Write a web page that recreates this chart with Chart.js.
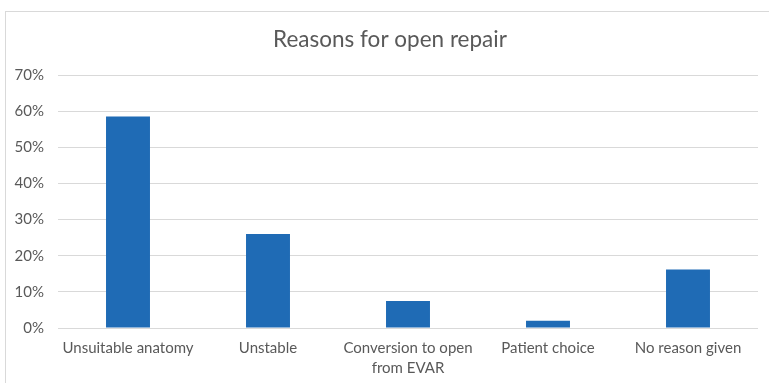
<!DOCTYPE html>
<html>
<head>
<meta charset="utf-8">
<script src="https://cdn.jsdelivr.net/npm/chart.js@4"></script>
<style>
  body { margin: 0; background: #fff; }
  #wrap { position: relative; width: 769px; height: 383px; }
  #frame {
    position: absolute; left: 5px; top: 11px; right: 0; bottom: 0;
    border-left: 1px solid #d9d9d9; border-top: 1px solid #d9d9d9;
    pointer-events: none;
  }
</style>
</head>
<body>
<div id="wrap">
  <canvas id="bar"></canvas>
  <div id="frame"></div>
</div>
<script>
let categories = [
  "Unsuitable anatomy",
  "Unstable",
  ["Conversion to open", "from EVAR"],
  "Patient choice",
  "No reason given",
];
let percentages = [58.5, 26, 7.5, 2, 16.2];
let yTicks = [0, 10, 20, 30, 40, 50, 60, 70];

let textColor = "#595959";
let fontName = "Lato";

// the original title sits a little right of the default centre
const shiftTitle = {
  id: "shiftTitle",
  afterLayout(chart) {
    if (chart.titleBlock) chart.titleBlock.left += 17;
  },
};

new Chart("bar", {
  type: "bar",
  data: {
    labels: categories,
    datasets: [
      {
        backgroundColor: "#1f6bb5",
        data: percentages,
        categoryPercentage: 1,
        barPercentage: 0.314,
      },
    ],
  },
  plugins: [shiftTitle],
  options: {
    responsive: true,
    maintainAspectRatio: false,
    animation: false,
    layout: { padding: { top: 11, left: 5, right: 11, bottom: 0 } },
    plugins: {
      legend: { display: false },
      tooltip: { enabled: false },
      title: {
        display: true,
        text: "Reasons for open repair",
        color: textColor,
        font: { family: fontName, size: 22.5, weight: "normal", lineHeight: 1.2 },
        padding: { top: 15, bottom: 22 },
      },
    },
    scales: {
      y: {
        min: 0,
        max: yTicks[yTicks.length - 1],
        afterBuildTicks: (axis) => {
          axis.ticks = yTicks.map((v) => ({ value: v }));
        },
        afterFit: (axis) => {
          axis.width = 53;
        },
        border: { display: false },
        grid: { color: "#d9d9d9", lineWidth: 1, drawTicks: false },
        ticks: {
          color: textColor,
          font: { family: fontName, size: 15 },
          padding: 14,
          callback: (v) => v + "%",
        },
      },
      x: {
        afterFit: (axis) => {
          axis.height = 55;
        },
        border: { display: false },
        grid: { display: false, drawTicks: false },
        ticks: {
          color: textColor,
          font: { family: fontName, size: 15, lineHeight: 1.35 },
          padding: 10,
          maxRotation: 0,
          autoSkip: false,
        },
      },
    },
  },
});
</script>
</body>
</html>
